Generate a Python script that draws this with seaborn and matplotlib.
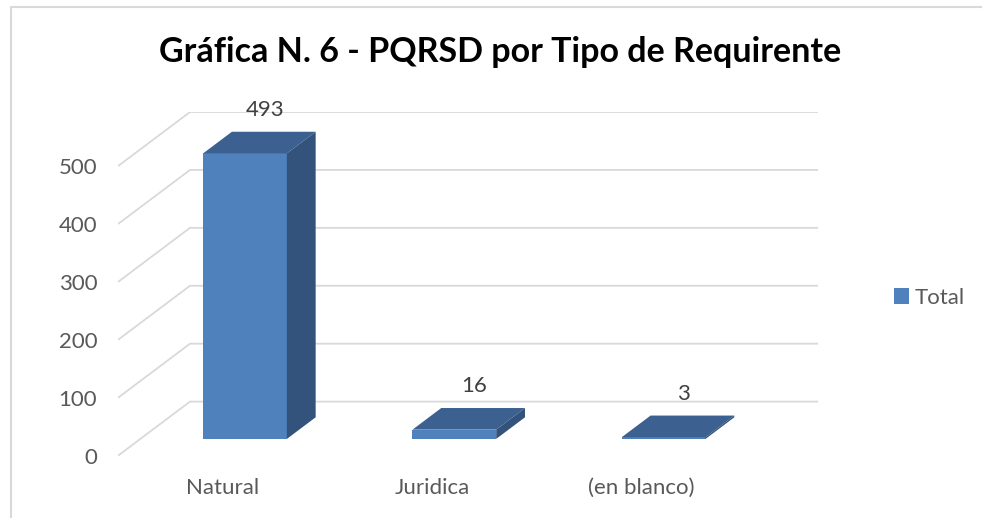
import numpy as np
import pandas as pd
import seaborn as sns
import matplotlib
matplotlib.use('Agg')
import matplotlib.pyplot as plt
from matplotlib.patches import Polygon
from matplotlib.lines import Line2D

# Data
categories = ['Natural', 'Juridica', '(en blanco)']
totals = [493, 16, 3]
y_ticks = [0, 100, 200, 300, 400, 500]
title = 'Gráfica N. 6 - PQRSD por Tipo de Requirente'
series_name = 'Total'

# Fake 3D look (Excel style): depth of the floor in data units
DEPTH_X = 0.344
DEPTH_Y = 93.4
BAR_FRONT = 0.31   # bar front sits at this fraction of the depth
BAR_BACK = 0.71

front_col = '#4F81BD'
top_col = '#3C6190'
side_col = '#33527C'
grid_col = '#D9D9D9'
text_col = '#595959'


def main():
    sns.set_theme(style='white')
    plt.rcParams['font.family'] = ['Lato', 'DejaVu Sans']

    fig = plt.figure(figsize=(9.82, 5.18), dpi=100)
    W, H = 982, 518
    ax = fig.add_axes([118 / W, (H - 455.7) / H, 700 / W, (455.7 - 112) / H])

    df = pd.DataFrame({'tipo': categories, 'total': totals})
    sns.barplot(data=df, x='tipo', y='total', width=0.4, color=front_col,
                saturation=1, ax=ax, label=series_name, zorder=3)

    ax.set_xlim(-0.5, len(categories) - 0.5 + DEPTH_X)
    ax.set_ylim(0, y_ticks[-1] + DEPTH_Y)

    # gridlines: diagonal on the side wall, then flat on the back wall
    x0, x1 = -0.5, len(categories) - 0.5
    for v in y_ticks:
        ax.plot([x0, x0 + DEPTH_X, x1 + DEPTH_X], [v, v + DEPTH_Y, v + DEPTH_Y],
                color=grid_col, lw=1.3, zorder=1, solid_capstyle='butt')

    # move bar fronts into the floor and add top / side faces
    d_front_x = BAR_FRONT * DEPTH_X
    d_front_y = BAR_FRONT * DEPTH_Y
    dx = (BAR_BACK - BAR_FRONT) * DEPTH_X
    dy = (BAR_BACK - BAR_FRONT) * DEPTH_Y
    for p, val in zip(ax.patches, totals):
        p.set_x(p.get_x() + d_front_x)
        p.set_y(p.get_y() + d_front_y)
        p.set_edgecolor('none')
        bx0 = p.get_x()
        bx1 = bx0 + p.get_width()
        by0 = p.get_y()
        by1 = by0 + p.get_height()
        ax.add_patch(Polygon([(bx0, by1), (bx0 + dx, by1 + dy), (bx1 + dx, by1 + dy), (bx1, by1)],
                             closed=True, facecolor=top_col, edgecolor='none', zorder=3))
        ax.add_patch(Polygon([(bx1, by0), (bx1 + dx, by0 + dy), (bx1 + dx, by1 + dy), (bx1, by1)],
                             closed=True, facecolor=side_col, edgecolor='none', zorder=3))
        ax.annotate(f'{val}', xy=(bx0 + p.get_width() / 2 + 0.7 * dx, by1 + dy),
                    xytext=(0, 22), textcoords='offset pixels', ha='center', va='center',
                    fontsize=16, color='#404040', annotation_clip=False)

    ax.set_yticks(y_ticks)
    ax.set_yticklabels([str(v) for v in y_ticks], fontsize=16, color=text_col)
    ax.set_xticks(range(len(categories)))
    ax.set_xticklabels(categories, fontsize=16, color=text_col)
    ax.tick_params(axis='y', length=0, pad=15)
    ax.tick_params(axis='x', length=0, pad=16)
    ax.set_xlabel('')
    ax.set_ylabel('')
    for s in ax.spines.values():
        s.set_visible(False)
    ax.patch.set_alpha(0)

    leg = ax.legend(loc='center left', bbox_to_anchor=(885 / W, 1 - 298 / H),
                    bbox_transform=fig.transFigure, frameon=False, fontsize=16,
                    handlelength=0.7, handleheight=0.7, handletextpad=0.25,
                    borderaxespad=0)
    for t in leg.get_texts():
        t.set_color(text_col)

    fig.text(500 / W, 1 - 52 / H, title, ha='center', va='center',
             fontsize=24.5, fontweight='bold', color='black')

    # chart area border (light grey, partly cut off by the screenshot)
    fig.add_artist(Line2D([10.5 / W, 10.5 / W], [0, 1 - 7 / H], transform=fig.transFigure,
                          color=grid_col, lw=1.5))
    fig.add_artist(Line2D([10.5 / W, 1], [1 - 7 / H, 1 - 7 / H], transform=fig.transFigure,
                          color=grid_col, lw=1.5))

    fig.savefig('out.png', dpi=100)
    plt.close(fig)


if __name__ == '__main__':
    main()
